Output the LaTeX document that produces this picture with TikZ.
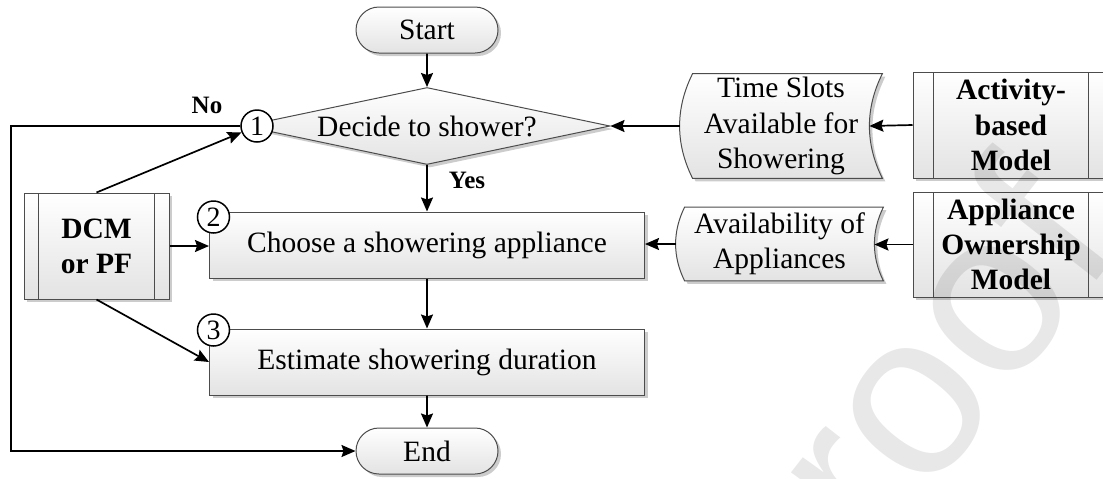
\documentclass[tikz,border=0pt]{standalone}
\usepackage{fontspec}
\setmainfont{Liberation Serif}
\newfontfamily\markfont{Liberation Sans}
\usetikzlibrary{arrows.meta,shapes.geometric,shapes.misc,shadows}
\pgfdeclarelayer{under}
\pgfdeclarelayer{overlay}
\pgfsetlayers{under,main,overlay}

\newcommand\diagfont{\fontsize{14.75}{17.6}\selectfont}

\tikzset{
  outline/.style={draw=black!70, line width=0.5pt},
  shaded/.style={top color=white, bottom color=black!11,
    drop shadow={shadow xshift=1.5pt, shadow yshift=-1.5pt, fill=black!20, opacity=1}},
  terminal/.style={rounded rectangle, outline, shaded, minimum width=71pt,
    minimum height=23pt, inner sep=0pt},
  process/.style={rectangle, outline, shaded, minimum width=217.5pt,
    minimum height=33pt, inner sep=0pt},
  decision/.style={diamond, aspect=4.75, outline, shaded, minimum width=183pt,
    minimum height=38.5pt, inner sep=0pt},
  predef/.style={rectangle, outline, shaded, inner sep=0pt, align=center,
    font=\diagfont\bfseries,
    path picture={\draw[black!70, line width=0.5pt]
      ([xshift=#1]path picture bounding box.north west) --
      ([xshift=#1]path picture bounding box.south west)
      ([xshift=-#1]path picture bounding box.north east) --
      ([xshift=-#1]path picture bounding box.south east);}},
  datatext/.style={rectangle, inner sep=0pt, align=center},
  stepno/.style={circle, draw=black, line width=0.75pt, fill=white,
    minimum size=16pt, inner sep=0pt, font=\fontsize{14}{14}\selectfont},
  flow/.style={draw=black, line width=0.85pt,
    -{Stealth[length=7pt, width=6pt, inset=1pt]}},
  tag/.style={font=\fontsize{12.5}{14}\selectfont\bfseries},
}

\begin{document}
\begin{tikzpicture}[x=0.5pt, y=-0.5pt, font=\diagfont]
\useasboundingbox (0,0) rectangle (1103,478);

% main flow
\node[terminal] (start) at (427,30) {Start};
\node[decision] (decide) at (427,126) {Decide to shower?};
\node[process] (choose) at (427,245) {Choose a showering appliance};
\node[process] (estimate) at (427,362) {Estimate showering duration};
\node[terminal] (end) at (427,451) {End};

% model boxes
\node[predef=7.25pt, minimum width=72.5pt, minimum height=53pt] (dcm) at (96.5,246) {DCM\\or PF};
\node[predef=10.25pt, minimum width=98pt, minimum height=53pt] (abm) at (1011,125) {Activity-\\based\\Model};
\node[predef=10.25pt, minimum width=98pt, minimum height=52.5pt] (aom) at (1011,244.5) {Appliance\\Ownership\\Model};

% stored data
\node[datatext, minimum width=101pt, minimum height=52pt] (slots) at (781,126) {Time Slots\\Available for\\Showering};
\node[datatext, minimum width=103.5pt, minimum height=36.5pt] (avail) at (779.5,244) {Availability of\\Appliances};

\begin{pgfonlayer}{under}
  \path[outline, shaded] ([xshift=6.5pt]slots.north west) -- (slots.north east)
    .. controls ([xshift=-8.67pt, yshift=-17.33pt]slots.north east)
       and ([xshift=-8.67pt, yshift=17.33pt]slots.south east) .. (slots.south east)
    -- ([xshift=6.5pt]slots.south west)
    .. controls ([xshift=-2.17pt, yshift=17.33pt]slots.south west)
       and ([xshift=-2.17pt, yshift=-17.33pt]slots.north west) .. cycle;
  \path[outline, shaded] ([xshift=4.5pt]avail.north west) -- (avail.north east)
    .. controls ([xshift=-6pt, yshift=-12.17pt]avail.north east)
       and ([xshift=-6pt, yshift=12.17pt]avail.south east) .. (avail.south east)
    -- ([xshift=4.5pt]avail.south west)
    .. controls ([xshift=-1.5pt, yshift=12.17pt]avail.south west)
       and ([xshift=-1.5pt, yshift=-12.17pt]avail.north west) .. cycle;
\end{pgfonlayer}

% step numbers
\node[stepno] (n1) at (257,126) {1};
\node[stepno] (n2) at (213.5,217) {2};
\node[stepno] (n3) at (213.5,330) {3};

% connectors
\draw[flow] (start) -- (decide);
\draw[flow] (decide) -- (choose);
\draw[flow] (choose) -- (estimate);
\draw[flow] (estimate) -- (end);
\draw[flow] (slots.west) -- (decide.east);
\draw[flow] (abm.west) -- ([xshift=-6.5pt]slots.east);
\draw[flow] (avail.west) -- (avail.west -| choose.east);
\draw[flow] (aom.west) -- ([xshift=-4.5pt]aom.west -| avail.east);
\draw[flow] (dcm.north) -- (n1);
\draw[flow] (dcm.east) -- (dcm.east -| choose.west);
\draw[flow] (dcm.south) -- (estimate.west);
\coordinate (back) at (11,126);
\draw[flow] (n1.west) -- (back) |- (end.west);

% branch labels
\node[tag] (no) at (207,105) {No};
\node[tag] (yes) at (467,180) {Yes};

% faint diagonal lettering laid over the lower right corner
\begin{pgfonlayer}{overlay}
  \begin{scope}
    \clip (0,0) rectangle (1103,478);
    \node[rotate=52, text=black, text opacity=0.09, inner sep=0pt,
          font=\markfont\fontsize{116}{116}\selectfont] (mark) at (936,352) {roof};
  \end{scope}
\end{pgfonlayer}
\end{tikzpicture}
\end{document}
